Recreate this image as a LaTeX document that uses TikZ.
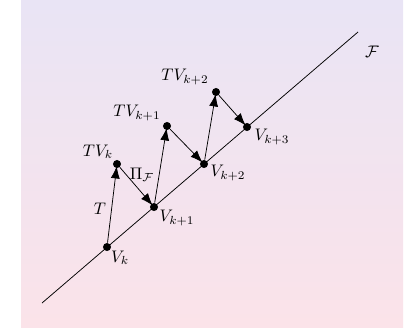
\documentclass[tikz,border=0pt]{standalone}
\usepackage{amsmath}
\usetikzlibrary{arrows.meta, positioning}
\definecolor{bgTop}{HTML}{E9E4F5}
\definecolor{bgBot}{HTML}{FBE3E9}
\tikzset{
  every picture/.append style = {line width=0.45pt, >={Latex[length=7.4pt, width=5.4pt]}},
  iterdot/.style  = {circle, fill=black, inner sep=1.7pt},
  maparrow/.style = {->, shorten >=-1.4pt},
  lbl/.style      = {font=\normalsize, inner sep=1pt},
}
\begin{document}
\begin{tikzpicture}[x=1cm, y=1cm]
  \useasboundingbox (0,0) rectangle (8.736,6.867);
  % background
  \shade[top color=bgTop, bottom color=bgBot] (0.441,0) rectangle (8.463,6.867);
  % the subspace F
  \coordinate (fstart) at (0.882,0.504);
  \coordinate (fend) at (7.518,6.195);
  \draw (fstart) -- (fend);
  \node[lbl] (flbl) at (7.812,5.775) {$\mathcal{F}$};
  % iterates on F and their images
  \node[iterdot] (v0) at (2.247,1.680) {};
  \node[iterdot] (tv0) at (2.457,3.423) {};
  \node[iterdot] (v1) at (3.234,2.520) {};
  \node[iterdot] (tv1) at (3.507,4.221) {};
  \node[iterdot] (v2) at (4.284,3.423) {};
  \node[iterdot] (tv2) at (4.536,4.935) {};
  \node[iterdot] (v3) at (5.187,4.200) {};
  % apply T, then project back
  \draw[maparrow] (v0) -- (tv0);
  \draw[maparrow] (tv0) -- (v1);
  \draw[maparrow] (v1) -- (tv1);
  \draw[maparrow] (tv1) -- (v2);
  \draw[maparrow] (v2) -- (tv2);
  \draw[maparrow] (tv2) -- (v3);
  % labels
  \node[lbl] (v0lbl) at (2.520,1.449) {$V_k$};
  \node[lbl] (v1lbl) at (3.717,2.289) {$V_{k+1}$};
  \node[lbl] (v2lbl) at (4.788,3.234) {$V_{k+2}$};
  \node[lbl] (v3lbl) at (5.712,3.990) {$V_{k+3}$};
  \node[lbl] (tv0lbl) at (2.058,3.675) {$TV_k$};
  \node[lbl] (tv1lbl) at (2.877,4.494) {$TV_{k+1}$};
  \node[lbl] (tv2lbl) at (3.885,5.250) {$TV_{k+2}$};
  \node[lbl] (tlbl) at (2.100,2.478) {$T$};
  \node[lbl] (pilbl) at (2.982,3.192) {$\Pi_{\mathcal{F}}$};
\end{tikzpicture}
\end{document}
